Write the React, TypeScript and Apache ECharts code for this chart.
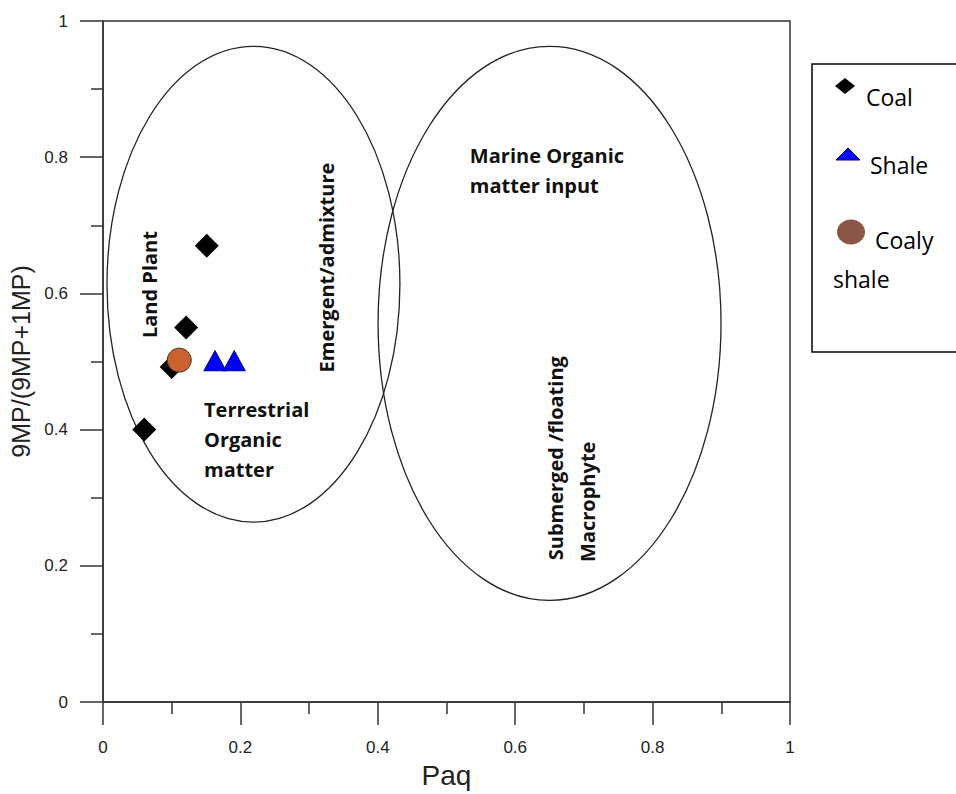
import React, { useEffect, useRef } from "react";
import * as echarts from "echarts";

// ---- data ----
const coalX = [0.151, 0.121, 0.1, 0.06];
const coalY = [0.67, 0.55, 0.492, 0.4];
const shaleX = [0.163, 0.191];
const shaleY = [0.501, 0.501];
const coalyShaleX = [0.111];
const coalyShaleY = [0.502];

// fields (ellipses) in data units: centre x, centre y, radius x, radius y
const fieldCx = [0.219, 0.65];
const fieldCy = [0.6135, 0.556];
const fieldRx = [0.2132, 0.2496];
const fieldRy = [0.3493, 0.4068];

// annotation labels anchored at data coordinates
const noteTexts = [
  "Land Plant",
  "Emergent/admixture",
  "Terrestrial\nOrganic\nmatter",
  "Marine Organic\nmatter input",
  "Submerged /floating",
  "Macrophyte",
];
const noteX = [0.068, 0.325, 0.147, 0.534, 0.658, 0.705];
const noteY = [0.613, 0.638, 0.386, 0.78, 0.358, 0.294];
const noteVertical = [true, true, false, false, true, true];

const xTicks = [0, 0.2, 0.4, 0.6, 0.8, 1];
const yTicks = [0, 0.2, 0.4, 0.6, 0.8, 1];

const seriesNames = ["Coal", "Shale", "Coaly shale"];

export default function App() {
  const ref = useRef<HTMLDivElement>(null);
  useEffect(() => {
    if (!ref.current) return;
    const chart = echarts.init(ref.current, null, { renderer: "svg" });
    const axisColor = "#333";
    const tickFont = "Liberation Sans";
    const noteFont = "Open Sans";
    const lineStyle = { color: axisColor, width: 1.5 };

    const option: any = {
      animation: false,
      backgroundColor: "#fff",
      grid: {
        left: 103,
        top: 21,
        width: 687,
        height: 687,
        show: true,
        borderColor: axisColor,
        borderWidth: 1.5,
        backgroundColor: "transparent",
      },
      xAxis: {
        type: "value",
        min: xTicks[0],
        max: xTicks[xTicks.length - 1],
        interval: 0.2,
        name: "Paq",
        nameLocation: "middle",
        nameGap: 59,
        nameTextStyle: { fontSize: 28, fontFamily: tickFont, color: "#222" },
        axisLine: { show: true, onZero: false, lineStyle },
        axisTick: { show: true, length: 23, lineStyle },
        minorTick: { show: true, splitNumber: 2, length: 12, lineStyle },
        splitLine: { show: false },
        minorSplitLine: { show: false },
        axisLabel: {
          margin: 37,
          fontSize: 17,
          fontFamily: tickFont,
          color: "#222",
          showMinLabel: true,
          showMaxLabel: true,
        },
      },
      yAxis: {
        type: "value",
        min: yTicks[0],
        max: yTicks[yTicks.length - 1],
        interval: 0.2,
        name: "9MP/(9MP+1MP)",
        nameLocation: "middle",
        nameGap: 68,
        nameTextStyle: { fontSize: 25, fontFamily: tickFont, color: "#222" },
        axisLine: { show: true, onZero: false, lineStyle },
        axisTick: { show: true, length: 23, lineStyle },
        minorTick: { show: true, splitNumber: 2, length: 12, lineStyle },
        splitLine: { show: false },
        minorSplitLine: { show: false },
        axisLabel: {
          margin: 35,
          fontSize: 17,
          fontFamily: tickFont,
          color: "#222",
          showMinLabel: true,
          showMaxLabel: true,
        },
      },
      series: [
        {
          type: "custom",
          name: "fields",
          silent: true,
          clip: false,
          z: 1,
          data: fieldCx.map((cx, i) => [cx, fieldCy[i], fieldRx[i], fieldRy[i]]),
          encode: { x: 0, y: 1 },
          renderItem: (params: any, api: any) => {
            const c = api.coord([api.value(0), api.value(1)]);
            const s = api.size([api.value(2), api.value(3)]);
            return {
              type: "ellipse",
              shape: { cx: c[0], cy: c[1], rx: s[0], ry: s[1] },
              style: { fill: "none", stroke: "#222", lineWidth: 1.3 },
            };
          },
        },
        {
          type: "custom",
          name: "notes",
          silent: true,
          clip: false,
          z: 2,
          data: noteX.map((x, i) => [x, noteY[i]]),
          encode: { x: 0, y: 1 },
          renderItem: (params: any, api: any) => {
            const i = params.dataIndex;
            const c = api.coord([api.value(0), api.value(1)]);
            const vertical = noteVertical[i];
            return {
              type: "text",
              x: c[0],
              y: c[1],
              rotation: vertical ? Math.PI / 2 : 0,
              style: {
                text: noteTexts[i],
                fill: "#111",
                fontFamily: noteFont,
                fontSize: 20,
                fontWeight: "bold",
                lineHeight: 30,
                align: vertical ? "center" : "left",
                verticalAlign: "middle",
              },
            };
          },
        },
        {
          type: "scatter",
          name: seriesNames[0],
          symbol: "diamond",
          symbolSize: 24,
          z: 3,
          itemStyle: { color: "#000", opacity: 1 },
          data: coalX.map((x, i) => [x, coalY[i]]),
        },
        {
          type: "scatter",
          name: seriesNames[1],
          symbol: "triangle",
          symbolSize: [22, 20],
          z: 3,
          itemStyle: { color: "#0000FF", borderColor: "#00008B", borderWidth: 1, opacity: 1 },
          data: shaleX.map((x, i) => [x, shaleY[i]]),
        },
        {
          type: "scatter",
          name: seriesNames[2],
          symbol: "circle",
          symbolSize: 24,
          z: 4,
          itemStyle: { color: "#C8622F", borderColor: "#4a3020", borderWidth: 1, opacity: 1 },
          data: coalyShaleX.map((x, i) => [x, coalyShaleY[i]]),
        },
      ],
      graphic: [
        {
          type: "rect",
          shape: { x: 812, y: 64, width: 170, height: 288 },
          style: { fill: "#fff", stroke: "#000", lineWidth: 1.5 },
          z: 10,
        },
        {
          type: "polygon",
          shape: { points: [[835, 86], [845, 78], [855, 86], [845, 94]] },
          style: { fill: "#000" },
          z: 11,
        },
        {
          type: "text",
          x: 866,
          y: 97,
          style: { text: "Coal", fill: "#000", fontFamily: noteFont, fontSize: 23, verticalAlign: "middle" },
          z: 11,
        },
        {
          type: "polygon",
          shape: { points: [[836, 160], [848, 148], [860, 160]] },
          style: { fill: "#0000FF", stroke: "#00008B", lineWidth: 1 },
          z: 11,
        },
        {
          type: "text",
          x: 870,
          y: 165,
          style: { text: "Shale", fill: "#000", fontFamily: noteFont, fontSize: 23, verticalAlign: "middle" },
          z: 11,
        },
        {
          type: "ellipse",
          shape: { cx: 851, cy: 232, rx: 14, ry: 12.5 },
          style: { fill: "#8C5647" },
          z: 11,
        },
        {
          type: "text",
          x: 875,
          y: 240,
          style: { text: "Coaly", fill: "#000", fontFamily: noteFont, fontSize: 23, verticalAlign: "middle" },
          z: 11,
        },
        {
          type: "text",
          x: 833,
          y: 279,
          style: { text: "shale", fill: "#000", fontFamily: noteFont, fontSize: 23, verticalAlign: "middle" },
          z: 11,
        },
      ],
    };
    chart.setOption(option);
    return () => chart.dispose();
  }, []);
  return (
    <div
      ref={ref}
      style={{ position: "absolute", left: 0, top: 0, width: 956, height: 794 }}
    />
  );
}
